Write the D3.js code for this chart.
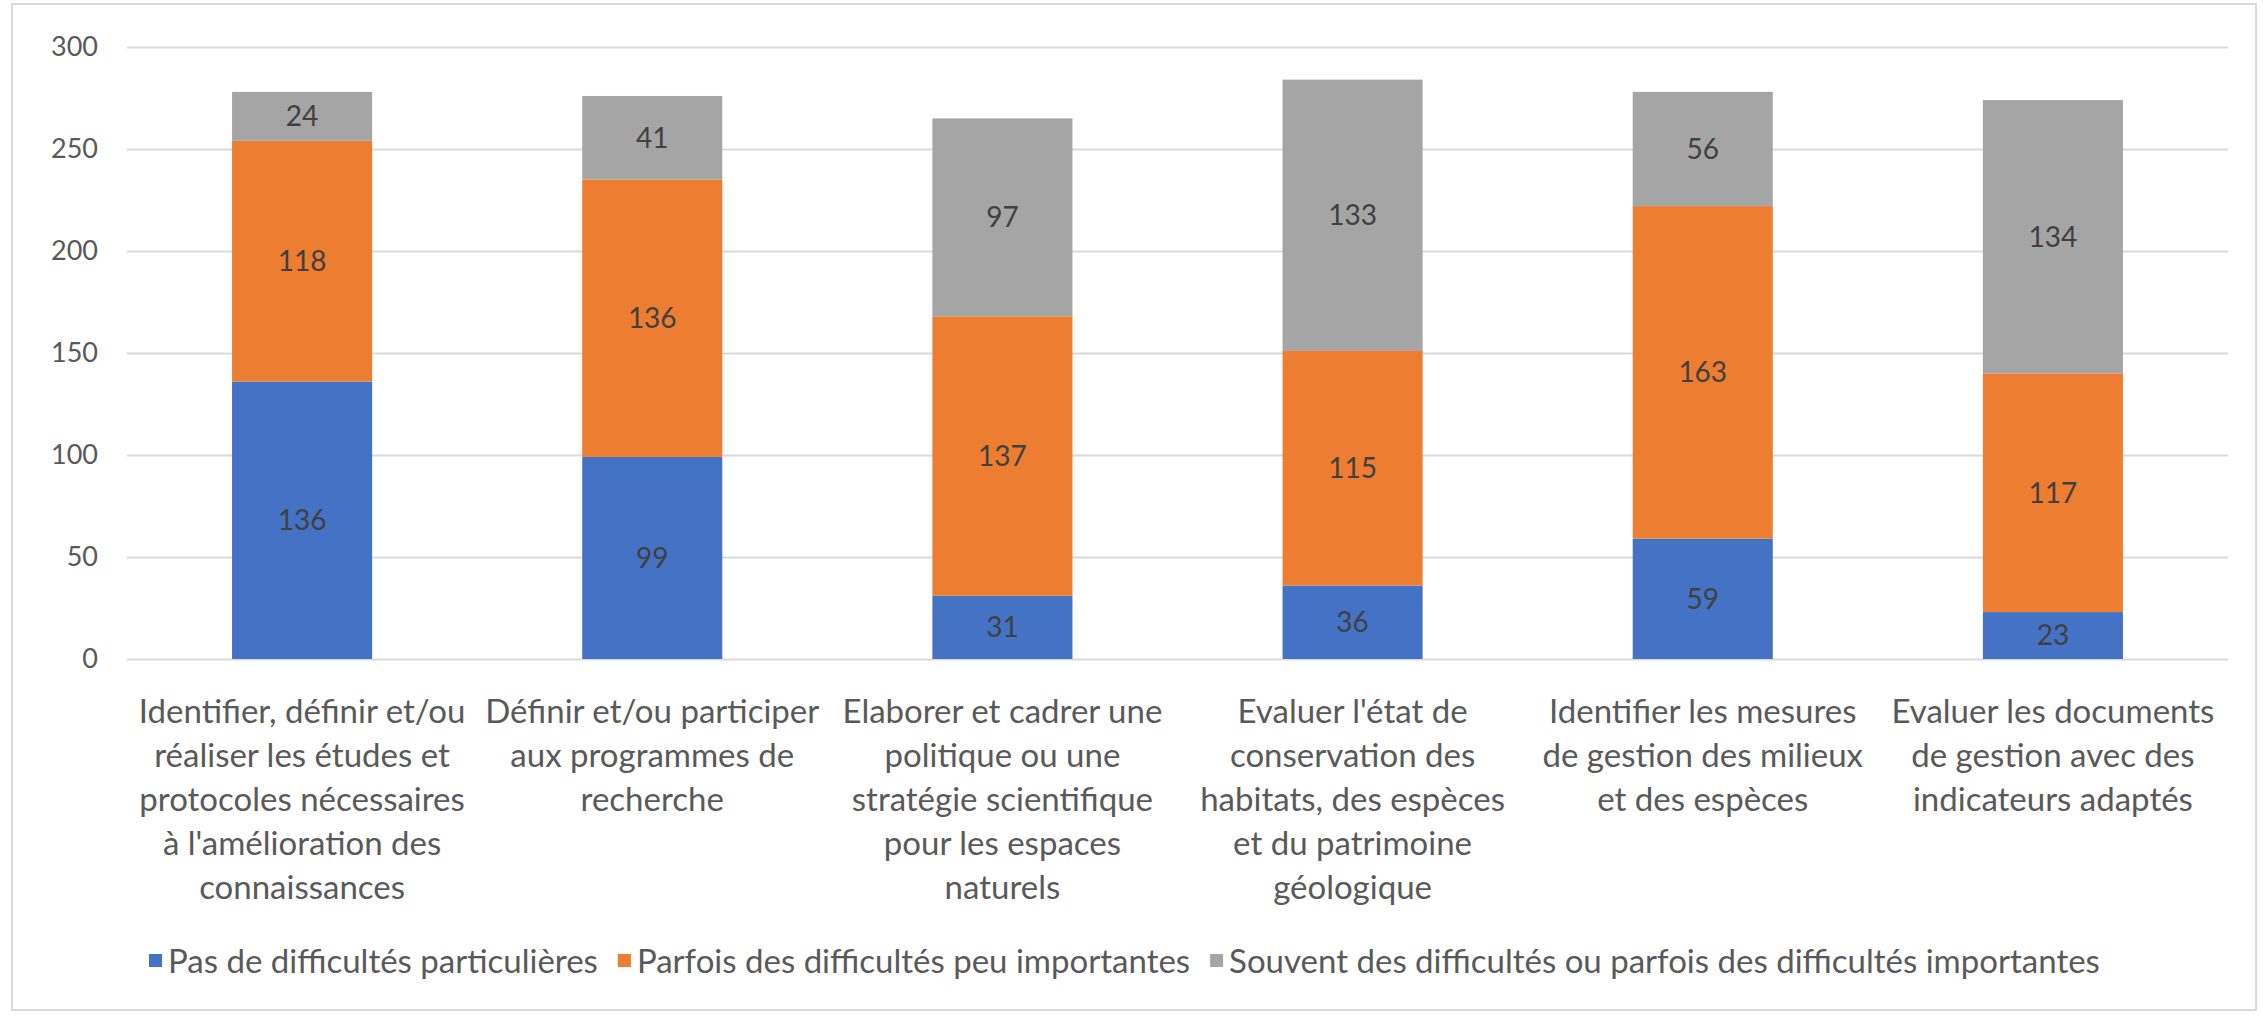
<!DOCTYPE html>
<html>
<head>
<meta charset="utf-8">
<script src="https://cdn.jsdelivr.net/npm/d3@7"></script>
<style>
  body { margin: 0; background: #fff; }
  text { font-family: "Lato", sans-serif; fill: #595959; }
</style>
</head>
<body>
<div id="main"></div>
<script>
// categories, one array of lines per bar (line breaks as in the original)
var categories = [
  ["Identifier, définir et/ou", "réaliser les études et", "protocoles nécessaires", "à l'amélioration des", "connaissances"],
  ["Définir et/ou participer", "aux programmes de", "recherche"],
  ["Elaborer et cadrer une", "politique ou une", "stratégie scientifique", "pour les espaces", "naturels"],
  ["Evaluer l'état de", "conservation des", "habitats, des espèces", "et du patrimoine", "géologique"],
  ["Identifier les mesures", "de gestion des milieux", "et des espèces"],
  ["Evaluer les documents", "de gestion avec des", "indicateurs adaptés"]
];
var seriesNames = [
  "Pas de difficultés particulières",
  "Parfois des difficultés peu importantes",
  "Souvent des difficultés ou parfois des difficultés importantes"
];
var pasDeDifficultes = [136, 99, 31, 36, 59, 23];
var parfoisPeuImportantes = [118, 136, 137, 115, 163, 117];
var souventImportantes = [24, 41, 97, 133, 56, 134];
var colors = ["#4472C4", "#ED7D31", "#A5A5A5"];
var yTicks = [0, 50, 100, 150, 200, 250, 300];

var W = 2263, H = 1016;
var plotLeft = 127, plotRight = 2228, plotTop = 47, plotBottom = 659;

var svg = d3.select("#main").append("svg")
  .attr("width", W)
  .attr("height", H);

// outer chart border
svg.append("rect")
  .attr("x", 12).attr("y", 4)
  .attr("width", 2244).attr("height", 1006)
  .attr("fill", "#fff")
  .attr("stroke", "#d9d9d9")
  .attr("stroke-width", 2);

var x = d3.scaleBand()
  .domain(d3.range(categories.length))
  .range([plotLeft, plotRight])
  .paddingInner(0.6)
  .paddingOuter(0.3);

var y = d3.scaleLinear().domain([0, 300]).range([plotBottom, plotTop]);

// gridlines + y labels
var yAxis = d3.axisLeft(y).tickValues(yTicks).tickSize(-(plotRight - plotLeft)).tickPadding(29);
var gy = svg.append("g").attr("transform", "translate(" + plotLeft + ",0)").call(yAxis);
gy.select(".domain").remove();
gy.selectAll(".tick line").attr("stroke", "#d9d9d9").attr("stroke-width", 2);
gy.selectAll(".tick text").attr("font-size", 27).style("font-family", "Lato, sans-serif").style("fill", "#595959");

// stack the series
var rows = categories.map(function(c, i) {
  return { i: i, a: pasDeDifficultes[i], b: parfoisPeuImportantes[i], c: souventImportantes[i] };
});
var stack = d3.stack().keys(["a", "b", "c"]);
var layers = stack(rows);

var gl = svg.selectAll(".layer").data(layers).enter().append("g")
  .attr("class", "layer")
  .attr("fill", function(d, k) { return colors[k]; });

gl.selectAll("rect").data(function(d) { return d; }).enter().append("rect")
  .attr("x", function(d) { return x(d.data.i); })
  .attr("width", x.bandwidth())
  .attr("y", function(d) { return y(d[1]); })
  .attr("height", function(d) { return y(d[0]) - y(d[1]); });

// value labels in the middle of each segment
gl.selectAll("text").data(function(d) { return d; }).enter().append("text")
  .attr("x", function(d) { return x(d.data.i) + x.bandwidth() / 2; })
  .attr("y", function(d) { return (y(d[0]) + y(d[1])) / 2; })
  .attr("dy", "0.35em")
  .attr("text-anchor", "middle")
  .attr("font-size", 28)
  .style("fill", "#404040")
  .text(function(d) { return d[1] - d[0]; });

// category labels
var gx = svg.append("g");
categories.forEach(function(lines, i) {
  var cx = x(i) + x.bandwidth() / 2;
  var t = gx.append("text")
    .attr("x", cx)
    .attr("y", 711)
    .attr("text-anchor", "middle")
    .attr("font-size", 33);
  lines.forEach(function(l, j) {
    t.append("tspan")
      .attr("x", cx)
      .attr("dy", j === 0 ? "0.35em" : 44)
      .text(l);
  });
});

// legend
var legend = svg.append("g").attr("transform", "translate(0,961)");
var lx = 149;
seriesNames.forEach(function(name, k) {
  legend.append("rect")
    .attr("x", lx).attr("y", -7)
    .attr("width", 13).attr("height", 13)
    .attr("fill", colors[k]);
  var t = legend.append("text")
    .attr("x", lx + 19)
    .attr("dy", "0.35em")
    .attr("font-size", 33)
    .text(name);
  lx += 19 + t.node().getComputedTextLength() + 20;
});
</script>
</body>
</html>
